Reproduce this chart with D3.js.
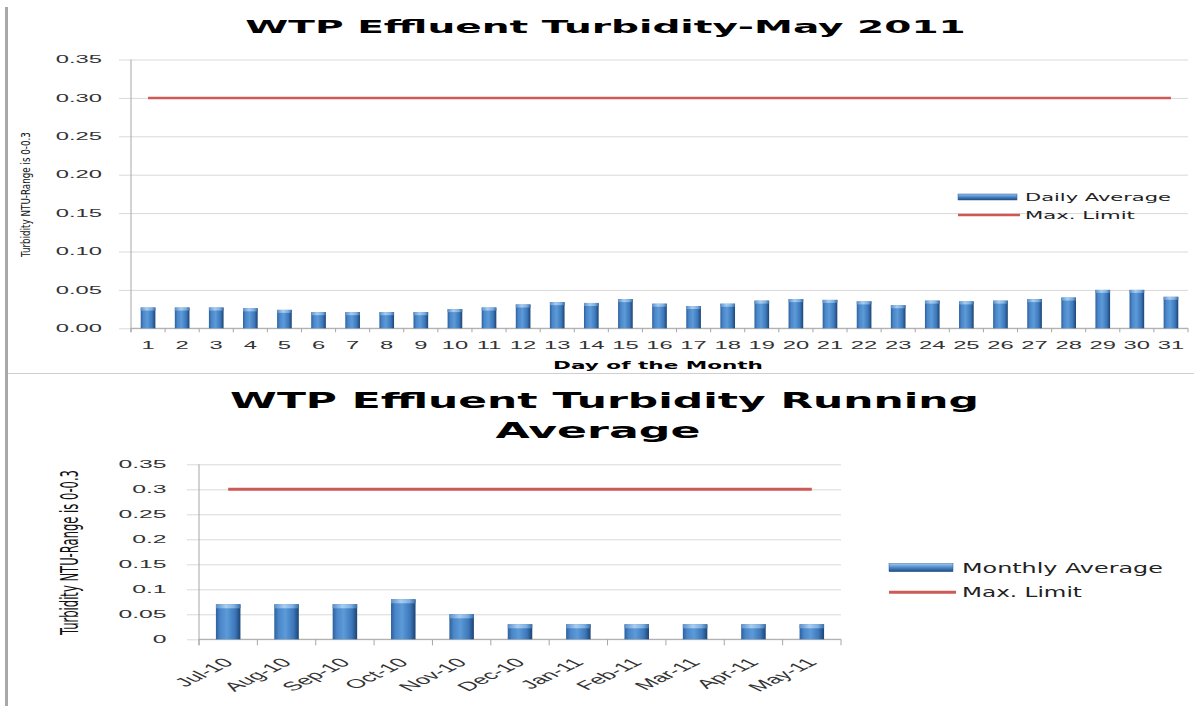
<!DOCTYPE html>
<html>
<head>
<meta charset="utf-8">
<script src="https://cdn.jsdelivr.net/npm/d3@7"></script>
<style>
  body { margin: 0; background: #fff; }
</style>
</head>
<body>
<div id="chart"></div>
<script>
// top chart: daily values for May 2011
const days = ["1","2","3","4","5","6","7","8","9","10","11","12","13","14","15","16",
              "17","18","19","20","21","22","23","24","25","26","27","28","29","30","31"];
const dailyAverage = [0.027,0.027,0.027,0.026,0.024,0.021,0.021,0.021,0.021,0.025,0.027,
                      0.031,0.034,0.033,0.038,0.032,0.029,0.032,0.036,0.038,0.037,0.035,
                      0.030,0.036,0.035,0.036,0.038,0.040,0.050,0.050,0.041];
const dailyLimit = [0.3,0.3,0.3,0.3,0.3,0.3,0.3,0.3,0.3,0.3,0.3,0.3,0.3,0.3,0.3,0.3,
                    0.3,0.3,0.3,0.3,0.3,0.3,0.3,0.3,0.3,0.3,0.3,0.3,0.3,0.3,0.3];
const dailyTicks = [0,0.05,0.10,0.15,0.20,0.25,0.30,0.35];

// bottom chart: running (monthly) average
const months = ["Jul-10","Aug-10","Sep-10","Oct-10","Nov-10","Dec-10",
                "Jan-11","Feb-11","Mar-11","Apr-11","May-11"];
const monthlyAverage = [0.07,0.07,0.07,0.08,0.05,0.03,0.03,0.03,0.03,0.03,0.03];
const monthlyLimit = [0.3,0.3,0.3,0.3,0.3,0.3,0.3,0.3,0.3,0.3,0.3];
const monthlyTicks = [0,0.05,0.1,0.15,0.2,0.25,0.3,0.35];

const yTitle = "Turbidity NTU-Range is 0-0.3";

var svg = d3.select("#chart")
  .append("svg")
  .attr("width", 1194)
  .attr("height", 706)
  .style("font-family", "'DejaVu Sans', Verdana, sans-serif");

///////////////// gradients for the 2007-style bars /////////////////
var defs = svg.append("defs");
var addGrad = (id, horiz, stops) => {
  var g = defs.append("linearGradient").attr("id", id)
    .attr("x1", 0).attr("y1", 0)
    .attr("x2", horiz ? 1 : 0).attr("y2", horiz ? 0 : 1);
  stops.forEach(s => g.append("stop").attr("offset", s[0]).attr("stop-color", s[1]));
};
addGrad("barGrad", true, [["0%","#2d609e"],["18%","#4b87c9"],["45%","#5c9ad8"],["78%","#3d78ba"],["100%","#1c4474"]]);
addGrad("capGrad", true, [["0%","#5d90c9"],["40%","#a9cdf0"],["75%","#7fb0e2"],["100%","#3c6ea6"]]);
addGrad("legGrad", false, [["0%","#9cc6ee"],["45%","#4f8bcc"],["100%","#1f4b80"]]);

// stretch text horizontally so it fills the width
function fitText(sel, x, y, targetW, anchor) {
  var w = sel.node().getComputedTextLength();
  sel.attr("text-anchor", anchor || "middle")
    .attr("transform", "translate(" + x + "," + y + ") scale(" + (targetW / w) + ",1)");
}

// rotated axis title: length sets the font size, thickness sets the stretch
function fitVertical(sel, x, cy, len, thick) {
  sel.style("font-size", "12px");
  var w = sel.node().getComputedTextLength();
  var fs = 12 * len / w;
  sel.style("font-size", fs + "px");
  sel.attr("text-anchor", "middle")
    .attr("transform", "translate(" + x + "," + cy + ") scale(" + (thick / (fs * 0.93)) + ",1) rotate(-90)");
}

///////////////////////////////////////////////////////////////
/////////////Bar chart Renderer////////////////////////////////
///////////////////////////////////////////////////////////////
const renderBarChart = (c) => {
  var g = svg.append("g");

  var x = d3.scaleBand()
    .domain(c.cats)
    .range([c.left, c.right])
    .paddingInner(c.pad)
    .paddingOuter(c.pad / 2);

  var y = d3.scaleLinear()
    .domain([0, 0.35])
    .range([c.bottom, c.top]);

  // grid lines (they poke a little left of the axis like Excel's tick marks)
  var grid = g.append("g")
    .attr("transform", "translate(" + c.left + ",0)")
    .call(d3.axisLeft(y).tickValues(c.ticks).tickSize(-(c.right - c.left)).tickFormat(""));
  grid.select(".domain").remove();
  grid.selectAll("line")
    .attr("x1", -c.tickLen)
    .attr("stroke", "#d9d9d9")
    .attr("stroke-width", 1);

  // y labels
  var yAx = g.append("g")
    .attr("transform", "translate(" + c.left + ",0)")
    .call(d3.axisLeft(y).tickValues(c.ticks).tickSize(0).tickFormat(c.fmt));
  yAx.select(".domain").remove();
  yAx.selectAll("text")
    .attr("x", 0)
    .attr("fill", "#333")
    .style("font-size", c.tickFs + "px")
    .attr("transform", "translate(" + (-c.yGap) + ",0) scale(" + c.tickSx + ",1)");

  // axis lines
  g.append("line")
    .attr("x1", c.left).attr("x2", c.left)
    .attr("y1", c.top).attr("y2", c.bottom + c.xTick)
    .attr("stroke", "#a6a6a6");
  g.append("line")
    .attr("x1", c.left).attr("x2", c.right)
    .attr("y1", c.bottom).attr("y2", c.bottom)
    .attr("stroke", "#a6a6a6");

  // category boundary ticks
  g.selectAll("line.bnd")
    .data(d3.range(c.cats.length + 1))
    .enter().append("line")
    .attr("class", "bnd")
    .attr("x1", i => x.range()[0] + i * x.step())
    .attr("x2", i => x.range()[0] + i * x.step())
    .attr("y1", c.bottom)
    .attr("y2", c.bottom + c.xTick)
    .attr("stroke", "#a6a6a6");

  // x labels
  var xAx = g.append("g")
    .attr("transform", "translate(0," + c.bottom + ")")
    .call(d3.axisBottom(x).tickSize(0));
  xAx.select(".domain").remove();
  var xt = xAx.selectAll("text")
    .attr("y", 0).attr("x", 0)
    .attr("fill", "#333")
    .style("font-size", c.xFs + "px");
  if (c.rotate) {
    xt.attr("text-anchor", "end")
      .attr("dy", "0.35em")
      .attr("transform", "translate(" + c.xLabDx + "," + c.xLabY + ") scale(" + c.xSx + ",1) rotate(-45)");
  } else {
    xt.attr("dy", "0.35em")
      .attr("transform", "translate(0," + c.xLabY + ") scale(" + c.xSx + ",1)");
  }

  // bars
  var bars = g.selectAll("g.bar")
    .data(c.vals)
    .enter().append("g")
    .attr("class", "bar");
  bars.append("rect")
    .attr("x", (d, i) => x(c.cats[i]))
    .attr("y", d => y(d))
    .attr("width", x.bandwidth())
    .attr("height", d => c.bottom - y(d))
    .attr("fill", "url(#barGrad)");
  bars.append("rect")
    .attr("x", (d, i) => x(c.cats[i]))
    .attr("y", d => y(d))
    .attr("width", x.bandwidth())
    .attr("height", c.capH)
    .attr("fill", "url(#capGrad)");

  // limit line
  g.append("path")
    .datum(c.limit)
    .attr("fill", "none")
    .attr("stroke", "#cd5a56")
    .attr("stroke-width", c.lineW)
    .attr("d", d3.line()
      .x((d, i) => x(c.cats[i]) + x.bandwidth() / 2)
      .y(d => y(d)));

  // titles
  c.titles.forEach(t => {
    var tt = g.append("text")
      .text(t.text)
      .attr("fill", "#000")
      .style("font-size", t.fs + "px")
      .style("font-weight", "bold");
    fitText(tt, t.cx, t.base, t.w);
  });

  var yt = g.append("text")
    .text(yTitle)
    .attr("fill", "#111")
    .style("font-family", "'Liberation Sans Narrow', 'DejaVu Sans Condensed', 'Liberation Sans', sans-serif");
  fitVertical(yt, c.yTitle.x, c.yTitle.cy, c.yTitle.len, c.yTitle.thick);

  // legend
  var L = c.legend;
  g.append("rect")
    .attr("x", L.x).attr("y", L.y1 - L.sw / 2)
    .attr("width", L.w).attr("height", L.sw)
    .attr("fill", "url(#legGrad)")
    .attr("stroke", "#2a5a92").attr("stroke-width", 0.5);
  g.append("line")
    .attr("x1", L.x).attr("x2", L.x + L.w + 3)
    .attr("y1", L.y2).attr("y2", L.y2)
    .attr("stroke", "#cd5a56").attr("stroke-width", c.lineW);
  var l1 = g.append("text").text(c.barName).attr("fill", "#222")
    .style("font-size", L.fs + "px").attr("dy", "0.36em");
  fitText(l1, L.tx, L.y1, L.w1, "start");
  var l2 = g.append("text").text("Max. Limit").attr("fill", "#222")
    .style("font-size", L.fs + "px").attr("dy", "0.36em");
  fitText(l2, L.tx, L.y2, L.w2, "start");
};

///////////////////// frame of the two pasted charts /////////////////////
svg.append("rect").attr("x", 5).attr("y", 7).attr("width", 3).attr("height", 699).attr("fill", "#a8a8a8");
svg.append("line").attr("x1", 8).attr("x2", 1194).attr("y1", 373.5).attr("y2", 373.5)
  .attr("stroke", "#cfcfcf").attr("stroke-width", 1);

renderBarChart({
  cats: days, vals: dailyAverage, limit: dailyLimit, ticks: dailyTicks,
  fmt: d3.format(".2f"),
  left: 131, right: 1188, top: 59.5, bottom: 328.3, pad: 0.57,
  tickLen: 12, xTick: 4, yGap: 29, tickFs: 10, tickSx: 2.38,
  xFs: 10, xSx: 2.38, xLabY: 17, rotate: false, capH: 3, lineW: 2.5,
  titles: [{ text: "WTP Effluent Turbidity-May 2011", cx: 605.5, base: 33.3, w: 721, fs: 17.5 },
           { text: "Day of the Month", cx: 658, base: 368.5, w: 210, fs: 11 }],
  yTitle: { x: 30, cy: 194.5, len: 125, thick: 11.5 },
  barName: "Daily Average",
  legend: { x: 958, w: 59, sw: 6, y1: 197, y2: 215, tx: 1025, w1: 146, w2: 110, fs: 10 }
});

renderBarChart({
  cats: months, vals: monthlyAverage, limit: monthlyLimit, ticks: monthlyTicks,
  fmt: d => String(+d.toFixed(2)),
  left: 199, right: 841, top: 464.3, bottom: 639.3, pad: 0.58,
  tickLen: 12, xTick: 6, yGap: 32.5, tickFs: 11.5, tickSx: 2.15,
  xFs: 12.5, xSx: 2.05, xLabY: 21, xLabDx: 0, rotate: true, capH: 4, lineW: 3,
  titles: [{ text: "WTP Effluent Turbidity Running", cx: 604.5, base: 407.7, w: 749, fs: 21 },
           { text: "Average", cx: 598, base: 438.3, w: 205, fs: 21 }],
  yTitle: { x: 78, cy: 552.5, len: 165, thick: 22.7 },
  barName: "Monthly Average",
  legend: { x: 889, w: 64, sw: 8, y1: 567.7, y2: 592.3, tx: 962, w1: 201, w2: 120, fs: 13.5 }
});
</script>
</body>
</html>
